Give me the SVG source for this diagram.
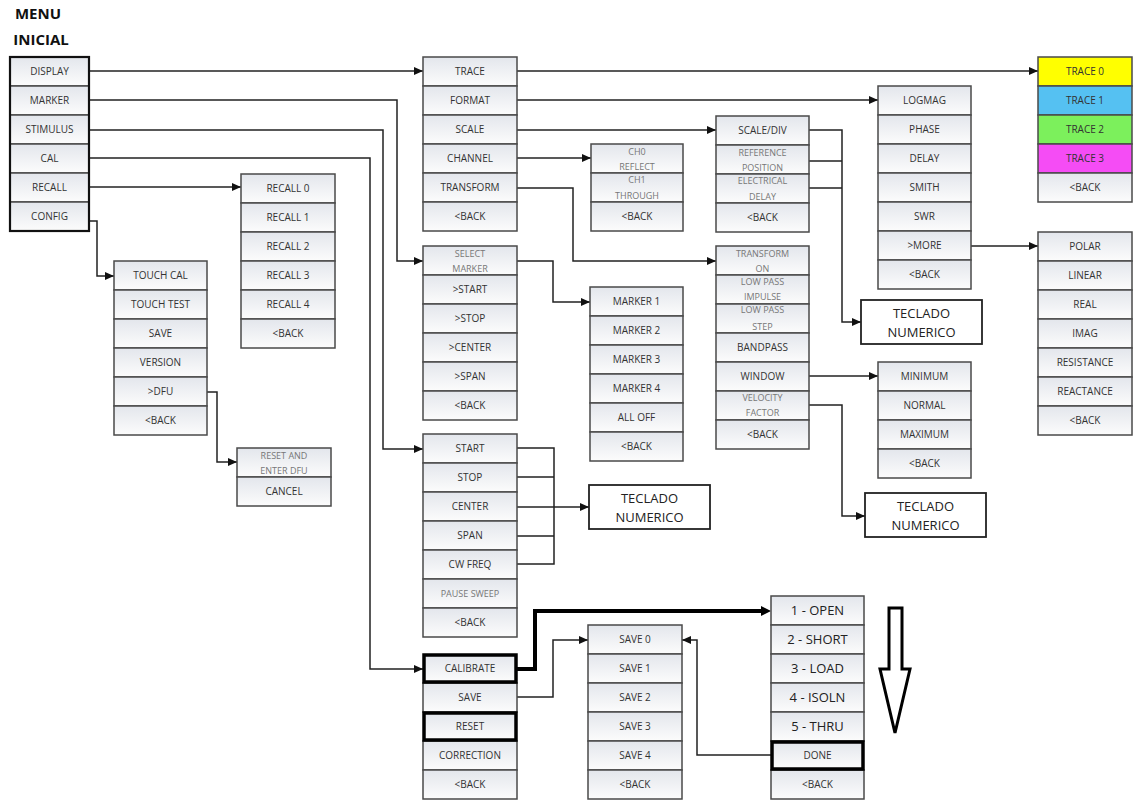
<svg xmlns="http://www.w3.org/2000/svg" width="1139" height="801" viewBox="0 0 1139 801">
<defs>
<linearGradient id="g" x1="0" y1="0" x2="0" y2="1"><stop offset="0" stop-color="#e3e6ec"/><stop offset="1" stop-color="#fcfcfc"/></linearGradient>
<marker id="a" markerUnits="userSpaceOnUse" markerWidth="10" markerHeight="10" refX="9" refY="4" orient="auto"><path d="M0,0 L9,4 L0,8 z" fill="#111"/></marker>
<style>
.c{fill:url(#g);stroke:#4a4a4a;stroke-width:1.5}
.h{fill:url(#g);stroke:#000;stroke-width:3.5}
.t{font-family:"Open Sans","DejaVu Sans",sans-serif;font-size:10px;fill:#333;text-anchor:middle}
.s{font-family:"Open Sans","DejaVu Sans",sans-serif;font-size:9px;fill:#777;text-anchor:middle}
.b{font-family:"Open Sans","DejaVu Sans",sans-serif;font-size:13px;fill:#222;text-anchor:middle}
.k{fill:#fff;stroke:#222;stroke-width:1.8}
.ln{fill:none;stroke:#222;stroke-width:1.5}
.th{fill:none;stroke:#000;stroke-width:4}
</style>
</defs>
<rect width="1139" height="801" fill="#fff"/>
<g id="title"><text x="38" y="19" font-family="Open Sans,DejaVu Sans,sans-serif" font-weight="bold" font-size="15" text-anchor="middle" fill="#111">MENU</text><text x="41" y="45" font-family="Open Sans,DejaVu Sans,sans-serif" font-weight="bold" font-size="15" text-anchor="middle" fill="#111">INICIAL</text></g>

<g id="connectors">
<path class="ln" d="M89,71 H423" marker-end="url(#a)"/>
<path class="ln" d="M89,100 H397 V261 H423" marker-end="url(#a)"/>
<path class="ln" d="M89,130 H383 V449 H423" marker-end="url(#a)"/>
<path class="ln" d="M89,158 H370 V669 H423" marker-end="url(#a)"/>
<path class="ln" d="M89,187 H241" marker-end="url(#a)"/>
<path class="ln" d="M89,221 H97 V276 H114" marker-end="url(#a)"/>
<path class="ln" d="M207,392 H217 V462 H237" marker-end="url(#a)"/>
<path class="ln" d="M517,71 H1038" marker-end="url(#a)"/>
<path class="ln" d="M517,100 H878" marker-end="url(#a)"/>
<path class="ln" d="M517,130 H716" marker-end="url(#a)"/>
<path class="ln" d="M517,158 H591" marker-end="url(#a)"/>
<path class="ln" d="M517,188 H573 V261 H716" marker-end="url(#a)"/>
<path class="ln" d="M809,161 H842 M809,188 H842"/>
<path class="ln" d="M809,130 H842 V322 H861" marker-end="url(#a)"/>
<path class="ln" d="M971,246 H1038" marker-end="url(#a)"/>
<path class="ln" d="M809,376 H878" marker-end="url(#a)"/>
<path class="ln" d="M809,405 H842 V516 H865" marker-end="url(#a)"/>
<path class="ln" d="M517,261 H553 V302 H590" marker-end="url(#a)"/>
<path class="ln" d="M517,448 H554 V564 H517 M517,477 H554 M517,536 H554"/>
<path class="ln" d="M517,507 H589" marker-end="url(#a)"/>
<path class="th" d="M517,669 H535 V611 H763"/>
<path d="M761,606 L771,611 L761,616 z" fill="#000"/>
<path class="ln" d="M517,697 H553 V640 H588" marker-end="url(#a)"/>
<path class="ln" d="M771,755 H697 V640 H682" marker-end="url(#a)"/>
</g>

<g id="menu-inicial">
<rect class="c" x="10" y="57" width="79" height="29"/><text class="t" x="49.5" y="75">DISPLAY</text>
<rect class="c" x="10" y="86" width="79" height="29"/><text class="t" x="49.5" y="104">MARKER</text>
<rect class="c" x="10" y="115" width="79" height="29"/><text class="t" x="49.5" y="133">STIMULUS</text>
<rect class="c" x="10" y="144" width="79" height="29"/><text class="t" x="49.5" y="162">CAL</text>
<rect class="c" x="10" y="173" width="79" height="29"/><text class="t" x="49.5" y="191">RECALL</text>
<rect class="c" x="10" y="202" width="79" height="29"/><text class="t" x="49.5" y="220">CONFIG</text>
<rect x="10" y="57" width="79" height="174" fill="none" stroke="#111" stroke-width="2.2"/>
</g>

<g id="display">
<rect class="c" x="423" y="57" width="94" height="29"/><text class="t" x="470" y="75">TRACE</text>
<rect class="c" x="423" y="86" width="94" height="29"/><text class="t" x="470" y="104">FORMAT</text>
<rect class="c" x="423" y="115" width="94" height="29"/><text class="t" x="470" y="133">SCALE</text>
<rect class="c" x="423" y="144" width="94" height="29"/><text class="t" x="470" y="162">CHANNEL</text>
<rect class="c" x="423" y="173" width="94" height="29"/><text class="t" x="470" y="191">TRANSFORM</text>
<rect class="c" x="423" y="202" width="94" height="29"/><text class="t" x="470" y="220">&lt;BACK</text>
</g>

<g id="trace">
<rect x="1038" y="57" width="94" height="29" fill="#ffff00" stroke="#4a4a4a" stroke-width="1.5"/><text class="t" x="1085" y="75">TRACE 0</text>
<rect x="1038" y="86" width="94" height="29" fill="#55c1f2" stroke="#4a4a4a" stroke-width="1.5"/><text class="t" x="1085" y="104">TRACE 1</text>
<rect x="1038" y="115" width="94" height="29" fill="#7cf05c" stroke="#4a4a4a" stroke-width="1.5"/><text class="t" x="1085" y="133">TRACE 2</text>
<rect x="1038" y="144" width="94" height="29" fill="#f54cf5" stroke="#4a4a4a" stroke-width="1.5"/><text class="t" x="1085" y="162">TRACE 3</text>
<rect class="c" x="1038" y="173" width="94" height="29"/><text class="t" x="1085" y="191">&lt;BACK</text>
</g>

<g id="format">
<rect class="c" x="878" y="86" width="93" height="29"/><text class="t" x="924.5" y="104">LOGMAG</text>
<rect class="c" x="878" y="115" width="93" height="29"/><text class="t" x="924.5" y="133">PHASE</text>
<rect class="c" x="878" y="144" width="93" height="29"/><text class="t" x="924.5" y="162">DELAY</text>
<rect class="c" x="878" y="173" width="93" height="29"/><text class="t" x="924.5" y="191">SMITH</text>
<rect class="c" x="878" y="202" width="93" height="29"/><text class="t" x="924.5" y="220">SWR</text>
<rect class="c" x="878" y="231" width="93" height="29"/><text class="t" x="924.5" y="249">&gt;MORE</text>
<rect class="c" x="878" y="260" width="93" height="29"/><text class="t" x="924.5" y="278">&lt;BACK</text>
</g>

<g id="scale">
<rect class="c" x="716" y="116" width="93" height="29"/><text class="t" x="762.5" y="134">SCALE/DIV</text>
<rect class="c" x="716" y="145" width="93" height="29"/><text class="s" x="762.5" y="156">REFERENCE</text><text class="s" x="762.5" y="171">POSITION</text>
<rect class="c" x="716" y="174" width="93" height="29"/><text class="s" x="762.5" y="184">ELECTRICAL</text><text class="s" x="762.5" y="200">DELAY</text>
<rect class="c" x="716" y="203" width="93" height="29"/><text class="t" x="762.5" y="221">&lt;BACK</text>
</g>

<g id="channel">
<rect class="c" x="591" y="144" width="92" height="29"/><text class="s" x="637" y="155">CH0</text><text class="s" x="637" y="170">REFLECT</text>
<rect class="c" x="591" y="173" width="92" height="29"/><text class="s" x="637" y="183">CH1</text><text class="s" x="637" y="199">THROUGH</text>
<rect class="c" x="591" y="202" width="92" height="29"/><text class="t" x="637" y="220">&lt;BACK</text>
</g>

<g id="recall">
<rect class="c" x="241" y="174" width="94" height="29"/><text class="t" x="288" y="192">RECALL 0</text>
<rect class="c" x="241" y="203" width="94" height="29"/><text class="t" x="288" y="221">RECALL 1</text>
<rect class="c" x="241" y="232" width="94" height="29"/><text class="t" x="288" y="250">RECALL 2</text>
<rect class="c" x="241" y="261" width="94" height="29"/><text class="t" x="288" y="279">RECALL 3</text>
<rect class="c" x="241" y="290" width="94" height="29"/><text class="t" x="288" y="308">RECALL 4</text>
<rect class="c" x="241" y="319" width="94" height="29"/><text class="t" x="288" y="337">&lt;BACK</text>
</g>

<g id="config">
<rect class="c" x="114" y="261" width="93" height="29"/><text class="t" x="160.5" y="279">TOUCH CAL</text>
<rect class="c" x="114" y="290" width="93" height="29"/><text class="t" x="160.5" y="308">TOUCH TEST</text>
<rect class="c" x="114" y="319" width="93" height="29"/><text class="t" x="160.5" y="337">SAVE</text>
<rect class="c" x="114" y="348" width="93" height="29"/><text class="t" x="160.5" y="366">VERSION</text>
<rect class="c" x="114" y="377" width="93" height="29"/><text class="t" x="160.5" y="395">&gt;DFU</text>
<rect class="c" x="114" y="406" width="93" height="29"/><text class="t" x="160.5" y="424">&lt;BACK</text>
</g>

<g id="dfu">
<rect class="c" x="237" y="448" width="94" height="29"/><text class="s" x="284" y="459">RESET AND</text><text class="s" x="284" y="474">ENTER DFU</text>
<rect class="c" x="237" y="477" width="94" height="29"/><text class="t" x="284" y="495">CANCEL</text>
</g>

<g id="marker">
<rect class="c" x="423" y="246" width="94" height="29"/><text class="s" x="470" y="257">SELECT</text><text class="s" x="470" y="272">MARKER</text>
<rect class="c" x="423" y="275" width="94" height="29"/><text class="t" x="470" y="293">&gt;START</text>
<rect class="c" x="423" y="304" width="94" height="29"/><text class="t" x="470" y="322">&gt;STOP</text>
<rect class="c" x="423" y="333" width="94" height="29"/><text class="t" x="470" y="351">&gt;CENTER</text>
<rect class="c" x="423" y="362" width="94" height="29"/><text class="t" x="470" y="380">&gt;SPAN</text>
<rect class="c" x="423" y="391" width="94" height="29"/><text class="t" x="470" y="409">&lt;BACK</text>
</g>

<g id="markers">
<rect class="c" x="590" y="287" width="93" height="29"/><text class="t" x="636.5" y="305">MARKER 1</text>
<rect class="c" x="590" y="316" width="93" height="29"/><text class="t" x="636.5" y="334">MARKER 2</text>
<rect class="c" x="590" y="345" width="93" height="29"/><text class="t" x="636.5" y="363">MARKER 3</text>
<rect class="c" x="590" y="374" width="93" height="29"/><text class="t" x="636.5" y="392">MARKER 4</text>
<rect class="c" x="590" y="403" width="93" height="29"/><text class="t" x="636.5" y="421">ALL OFF</text>
<rect class="c" x="590" y="432" width="93" height="29"/><text class="t" x="636.5" y="450">&lt;BACK</text>
</g>

<g id="transform">
<rect class="c" x="716" y="246" width="93" height="29"/><text class="s" x="762.5" y="257">TRANSFORM</text><text class="s" x="762.5" y="272">ON</text>
<rect class="c" x="716" y="275" width="93" height="29"/><text class="s" x="762.5" y="285">LOW PASS</text><text class="s" x="762.5" y="300">IMPULSE</text>
<rect class="c" x="716" y="304" width="93" height="29"/><text class="s" x="762.5" y="313">LOW PASS</text><text class="s" x="762.5" y="330">STEP</text>
<rect class="c" x="716" y="333" width="93" height="29"/><text class="t" x="762.5" y="351">BANDPASS</text>
<rect class="c" x="716" y="362" width="93" height="29"/><text class="t" x="762.5" y="380">WINDOW</text>
<rect class="c" x="716" y="391" width="93" height="29"/><text class="s" x="762.5" y="401">VELOCITY</text><text class="s" x="762.5" y="416">FACTOR</text>
<rect class="c" x="716" y="420" width="93" height="29"/><text class="t" x="762.5" y="438">&lt;BACK</text>
</g>

<g id="window">
<rect class="c" x="878" y="362" width="93" height="29"/><text class="t" x="924.5" y="380">MINIMUM</text>
<rect class="c" x="878" y="391" width="93" height="29"/><text class="t" x="924.5" y="409">NORMAL</text>
<rect class="c" x="878" y="420" width="93" height="29"/><text class="t" x="924.5" y="438">MAXIMUM</text>
<rect class="c" x="878" y="449" width="93" height="29"/><text class="t" x="924.5" y="467">&lt;BACK</text>
</g>

<g id="more">
<rect class="c" x="1038" y="232" width="94" height="29"/><text class="t" x="1085" y="250">POLAR</text>
<rect class="c" x="1038" y="261" width="94" height="29"/><text class="t" x="1085" y="279">LINEAR</text>
<rect class="c" x="1038" y="290" width="94" height="29"/><text class="t" x="1085" y="308">REAL</text>
<rect class="c" x="1038" y="319" width="94" height="29"/><text class="t" x="1085" y="337">IMAG</text>
<rect class="c" x="1038" y="348" width="94" height="29"/><text class="t" x="1085" y="366">RESISTANCE</text>
<rect class="c" x="1038" y="377" width="94" height="29"/><text class="t" x="1085" y="395">REACTANCE</text>
<rect class="c" x="1038" y="406" width="94" height="29"/><text class="t" x="1085" y="424">&lt;BACK</text>
</g>

<g id="stimulus">
<rect class="c" x="423" y="434" width="94" height="29"/><text class="t" x="470" y="452">START</text>
<rect class="c" x="423" y="463" width="94" height="29"/><text class="t" x="470" y="481">STOP</text>
<rect class="c" x="423" y="492" width="94" height="29"/><text class="t" x="470" y="510">CENTER</text>
<rect class="c" x="423" y="521" width="94" height="29"/><text class="t" x="470" y="539">SPAN</text>
<rect class="c" x="423" y="550" width="94" height="29"/><text class="t" x="470" y="568">CW FREQ</text>
<rect class="c" x="423" y="579" width="94" height="29"/><text class="s" x="470" y="597">PAUSE SWEEP</text>
<rect class="c" x="423" y="608" width="94" height="29"/><text class="t" x="470" y="626">&lt;BACK</text>
</g>

<g id="cal">
<rect class="c" x="423" y="683" width="94" height="29"/><text class="t" x="470" y="701">SAVE</text>
<rect class="c" x="423" y="741" width="94" height="29"/><text class="t" x="470" y="759">CORRECTION</text>
<rect class="c" x="423" y="770" width="94" height="29"/><text class="t" x="470" y="788">&lt;BACK</text>
<rect class="h" x="424" y="655" width="92" height="27"/><text class="t" x="470" y="672">CALIBRATE</text>
<rect class="h" x="424" y="713" width="92" height="27"/><text class="t" x="470" y="730">RESET</text>
</g>

<g id="save">
<rect class="c" x="588" y="625" width="94" height="29"/><text class="t" x="635" y="643">SAVE 0</text>
<rect class="c" x="588" y="654" width="94" height="29"/><text class="t" x="635" y="672">SAVE 1</text>
<rect class="c" x="588" y="683" width="94" height="29"/><text class="t" x="635" y="701">SAVE 2</text>
<rect class="c" x="588" y="712" width="94" height="29"/><text class="t" x="635" y="730">SAVE 3</text>
<rect class="c" x="588" y="741" width="94" height="29"/><text class="t" x="635" y="759">SAVE 4</text>
<rect class="c" x="588" y="770" width="94" height="29"/><text class="t" x="635" y="788">&lt;BACK</text>
</g>

<g id="calibrate">
<rect class="c" x="771" y="596" width="93" height="29"/><text class="b" x="817.5" y="615">1 - OPEN</text>
<rect class="c" x="771" y="625" width="93" height="29"/><text class="b" x="817.5" y="644">2 - SHORT</text>
<rect class="c" x="771" y="654" width="93" height="29"/><text class="b" x="817.5" y="673">3 - LOAD</text>
<rect class="c" x="771" y="683" width="93" height="29"/><text class="b" x="817.5" y="702">4 - ISOLN</text>
<rect class="c" x="771" y="712" width="93" height="29"/><text class="b" x="817.5" y="731">5 - THRU</text>
<rect class="c" x="771" y="770" width="93" height="29"/><text class="t" x="817.5" y="788">&lt;BACK</text>
<rect class="h" x="772" y="742" width="91" height="27"/><text class="t" x="817.5" y="759">DONE</text>
</g>

<g id="teclado-1"><rect class="k" x="861" y="300" width="121" height="44"/><text class="b" x="921.5" y="318" font-size="14">TECLADO</text><text class="b" x="921.5" y="337" font-size="14">NUMERICO</text></g>
<g id="teclado-2"><rect class="k" x="589" y="485" width="121" height="44"/><text class="b" x="649.5" y="503" font-size="14">TECLADO</text><text class="b" x="649.5" y="522" font-size="14">NUMERICO</text></g>
<g id="teclado-3"><rect class="k" x="865" y="493" width="121" height="44"/><text class="b" x="925.5" y="511" font-size="14">TECLADO</text><text class="b" x="925.5" y="530" font-size="14">NUMERICO</text></g>

<g id="down-arrow"><polygon points="889,608 902,608 902,669 910,669 895,733 880,669 889,669" fill="#fff" stroke="#000" stroke-width="3" stroke-linejoin="miter"/></g>
</svg>
